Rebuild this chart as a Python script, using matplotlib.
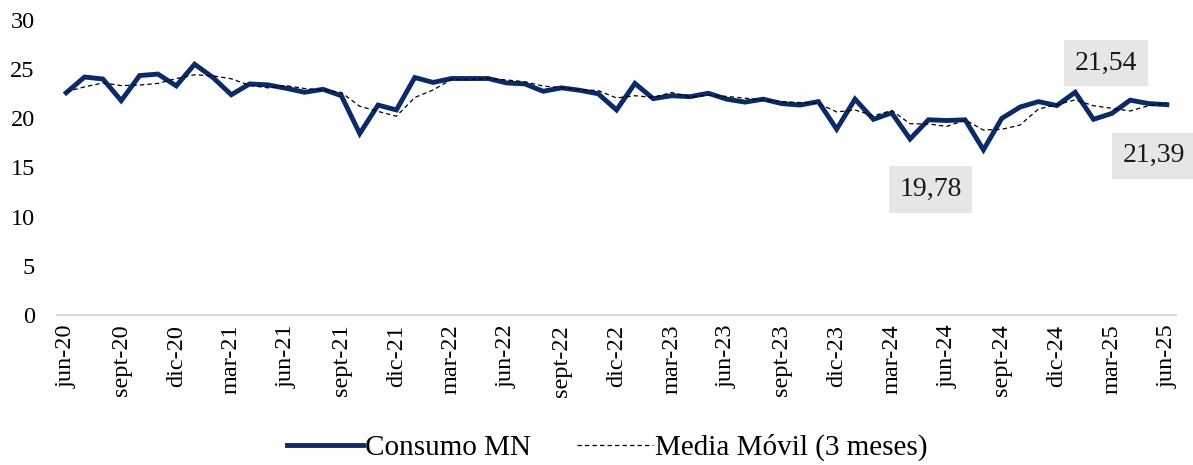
import matplotlib.pyplot as plt
import numpy as np

# monthly data jun-20 .. jun-25
meses = ["ene", "feb", "mar", "abr", "may", "jun", "jul", "ago", "sept", "oct", "nov", "dic"]
fechas = [f"{meses[(5 + i) % 12]}-{20 + (5 + i) // 12}" for i in range(61)]

consumo_mn = [22.6, 24.2, 24.0, 21.8, 24.35, 24.5, 23.3, 25.5, 24.15, 22.4,
              23.5, 23.4, 23.05, 22.65, 22.95, 22.3, 18.45, 21.35, 20.85, 24.15,
              23.65, 24.05, 24.05, 24.05, 23.6, 23.5, 22.75, 23.1, 22.85, 22.5,
              20.85, 23.55, 22.0, 22.3, 22.2, 22.55, 21.95, 21.65, 21.95, 21.5,
              21.35, 21.7, 18.9, 21.95, 19.9, 20.55, 17.9, 19.85, 19.78, 19.85,
              16.8, 20.0, 21.15, 21.7, 21.3, 22.65, 19.9, 20.5, 21.85, 21.5,
              21.39]

media_movil = [22.7, 23.2, 23.60, 23.33, 23.38, 23.55, 24.05, 24.43, 24.32, 24.02,
               23.35, 23.10, 23.32, 23.03, 22.88, 22.63, 21.23, 20.70, 20.22, 22.12,
               22.88, 23.95, 23.92, 24.05, 23.90, 23.72, 23.28, 23.12, 22.90, 22.82,
               22.07, 22.30, 22.13, 22.62, 22.17, 22.35, 22.23, 22.05, 21.85, 21.70,
               21.60, 21.52, 20.65, 20.85, 20.25, 20.80, 19.45, 19.43, 19.18, 19.83,
               18.81, 18.88, 19.32, 20.95, 21.38, 21.88, 21.28, 21.02, 20.75, 21.28,
               21.54]

etiquetas = [(48, consumo_mn[48], (-16, -69)),
             (60, media_movil[60], (-61, 40)),
             (60, consumo_mn[60], (-13, -51))]

plt.rcParams['font.family'] = ['Liberation Serif', 'DejaVu Serif']

fig = plt.figure(figsize=(11.93, 4.65), dpi=100)
ax = fig.add_axes([0.0478, 0.3226, 0.938, 0.6344])

x = np.arange(len(fechas))
ax.plot(x, consumo_mn, color='#0b2a66', lw=3.5, solid_joinstyle='miter',
        label='Consumo MN', zorder=3)
ax.plot(x, media_movil, color='black', lw=0.9, linestyle=(0, (3.5, 2.5)),
        label='Media Móvil (3 meses)', zorder=4)

for i, v, off in etiquetas:
    ax.annotate(f"{v:.2f}".replace('.', ','), xy=(i, v), xytext=off,
                textcoords='offset pixels', ha='center', va='center',
                fontsize=20, color='#1a1a1a',
                bbox=dict(boxstyle='square,pad=0.38', fc='#e6e6e6', ec='none'),
                annotation_clip=False, zorder=5)

ax.set_xlim(-0.5, len(fechas) - 0.5)
ax.set_ylim(0, 30)
ax.set_yticks(range(0, 31, 5))
ax.set_xticks(x[::3])
ax.set_xticklabels(fechas[::3], rotation=90, fontsize=17.5)
ax.tick_params(axis='y', length=0, pad=16, labelsize=17.5)
ax.tick_params(axis='x', length=0, pad=7)

for s in ['top', 'right', 'left']:
    ax.spines[s].set_visible(False)
ax.spines['bottom'].set_color('#d9d9d9')
ax.spines['bottom'].set_linewidth(1.5)

fig.legend(loc='center', bbox_to_anchor=(0.509, 0.037), ncol=2, frameon=False,
           fontsize=21, handlelength=2.6, columnspacing=1.6, handletextpad=0.05)

fig.savefig('out.png', dpi=100)
